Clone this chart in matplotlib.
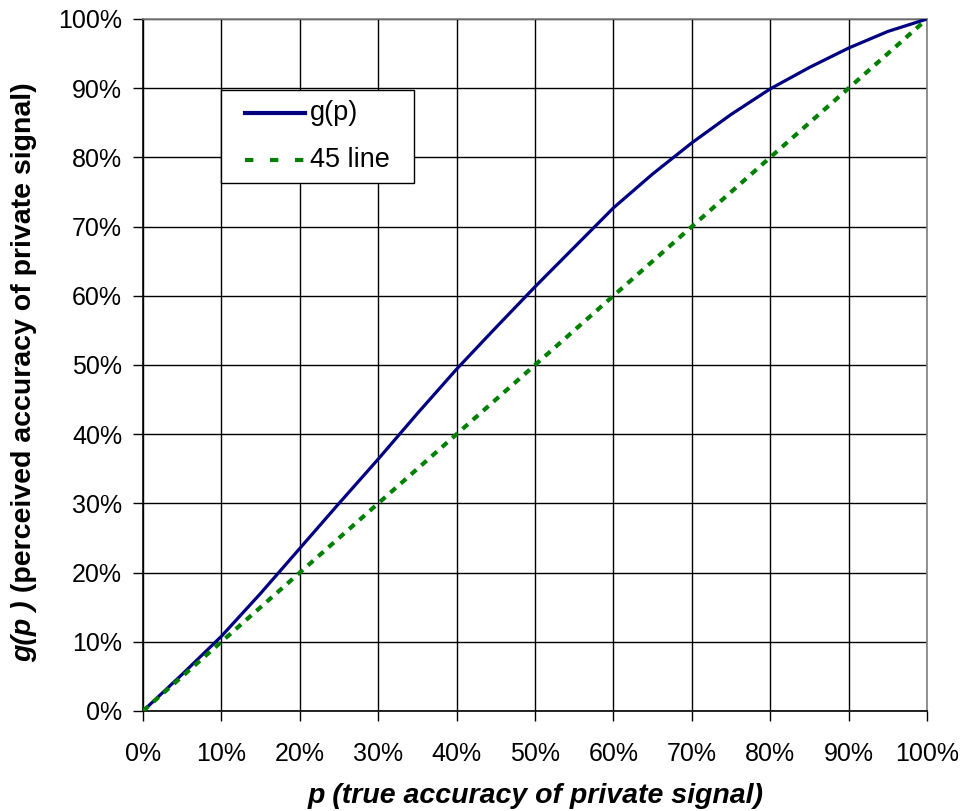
import matplotlib.pyplot as plt
from matplotlib.patches import Rectangle
from matplotlib.lines import Line2D
from matplotlib.ticker import FuncFormatter, MultipleLocator

plt.rcParams['font.family'] = ['Liberation Sans', 'DejaVu Sans']

# valores (en %)
p = [0, 5, 10, 15, 20, 25, 30, 35, 40, 45, 50, 55, 60, 65, 70, 75, 80, 85, 90, 95, 100]
g_p = [0, 5.3, 10.8, 17.0, 23.5, 30.0, 36.4, 43.0, 49.4, 55.4, 61.3, 67.0, 72.7, 77.6, 82.1,
       86.2, 89.9, 93.0, 95.8, 98.2, 100]
linea_45 = [0, 100]
p_45 = [0, 100]
etiquetas = ['g(p)', '45 line']

AZUL = '#000080'
VERDE = '#008000'
GUIONES = (0, (1.7, 1.6))

W, H = 964, 811


def fx(x):
    return x / W


def fy(y):
    return 1 - y / H


fig = plt.figure(figsize=(W / 100, H / 100), dpi=100)
ax = fig.add_axes([fx(143), fy(711), 784 / W, 692 / H])

ax.plot(p, g_p, color=AZUL, lw=2.3, zorder=3)
ax.plot(p_45, linea_45, color=VERDE, lw=3.0, ls=GUIONES, zorder=4)

ax.set_xlim(0, 100)
ax.set_ylim(0, 100)
ax.xaxis.set_major_locator(MultipleLocator(10))
ax.yaxis.set_major_locator(MultipleLocator(10))
pct = FuncFormatter(lambda v, pos: '%d%%' % round(v))
ax.xaxis.set_major_formatter(pct)
ax.yaxis.set_major_formatter(pct)
ax.tick_params(labelsize=18, length=7, width=1, color='black', direction='out')
ax.tick_params(axis='x', pad=15)
ax.tick_params(axis='y', pad=8)
ax.grid(True, color='black', lw=1)
ax.set_axisbelow(True)
for s in ['left', 'bottom']:
    ax.spines[s].set_color('black')
    ax.spines[s].set_linewidth(1.2)
for s in ['top', 'right']:
    ax.spines[s].set_color('#808080')
    ax.spines[s].set_linewidth(1.2)

# leyenda dibujada a mano (caja como en Excel)
fig.add_artist(Rectangle((fx(221), fy(183)), (414 - 221) / W, (183 - 90) / H,
                         transform=fig.transFigure, facecolor='white', edgecolor='black',
                         lw=1, zorder=5))
estilos = [dict(color=AZUL, lw=3), dict(color=VERDE, lw=3.0, ls=(0, (2, 4)))]
for i, (lab, est) in enumerate(zip(etiquetas, estilos)):
    yy = 113 + 47 * i
    fig.add_artist(Line2D([fx(245), fx(305)], [fy(yy), fy(yy)], transform=fig.transFigure,
                          zorder=6, **est))
    fig.text(fx(310), fy(yy), lab, ha='left', va='center', fontsize=19.5, zorder=6)

# etiqueta eje x
fig.text(fx(536), fy(796), 'p (true accuracy of private signal)', ha='center', va='center',
         fontsize=20.5, fontweight='bold', fontstyle='italic')

# etiqueta eje y en dos partes
t1 = fig.text(fx(24), fy(662), 'g(p )', rotation=90, rotation_mode='anchor',
              ha='left', va='center', fontsize=20.5, fontweight='bold', fontstyle='italic')
fig.canvas.draw()
bb = t1.get_window_extent()
fig.text(fx(24), bb.y1 / H, ' (perceived accuracy of private signal)', rotation=90,
         rotation_mode='anchor', ha='left', va='center', fontsize=20.5, fontweight='bold')

fig.savefig('out.png', dpi=100)
